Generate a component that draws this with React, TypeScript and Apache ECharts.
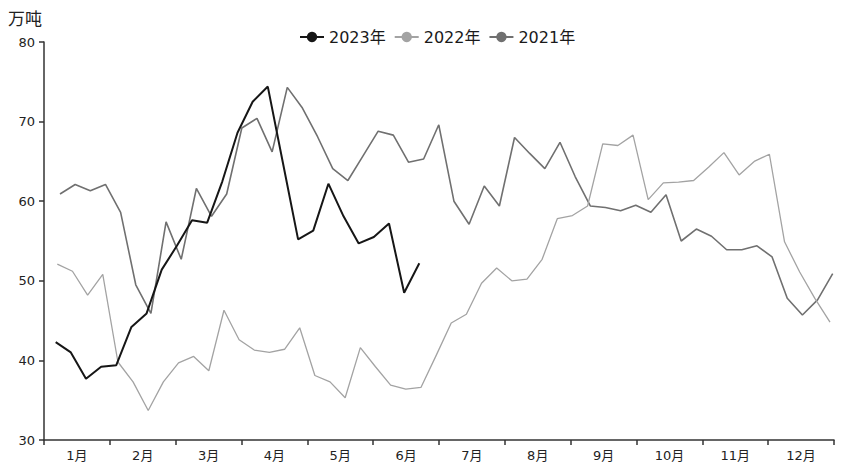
import React, { useEffect, useRef } from "react";
import * as echarts from "echarts";

const months = ["1月", "2月", "3月", "4月", "5月", "6月", "7月", "8月", "9月", "10月", "11月", "12月"];
const yTicks = { min: 30, max: 80, interval: 10 };
const seriesNames = ["2023年", "2022年", "2021年"];
// first weekly observation day-of-year for each year (weekly data)
const firstDay = [5.4, 6.15, 7.4];
const weekStep = 7;

const v2023 = [42.3, 41.0, 37.7, 39.2, 39.4, 44.2, 45.9, 51.4, 54.4, 57.6, 57.3, 62.5, 68.6, 72.5, 74.4, 64.8, 55.2, 56.3, 62.2, 58.1, 54.7, 55.5, 57.2, 48.5, 52.2];
const v2022 = [52.1, 51.2, 48.2, 50.8, 39.8, 37.3, 33.7, 37.3, 39.7, 40.5, 38.7, 46.3, 42.6, 41.3, 41.0, 41.4, 44.1, 38.1, 37.3, 35.3, 41.6, 39.2, 36.9, 36.4, 36.6, 40.6, 44.7, 45.8, 49.7, 51.6, 50.0, 50.2, 52.7, 57.8, 58.2, 59.4, 67.2, 67.0, 68.3, 60.2, 62.3, 62.4, 62.6, 64.3, 66.1, 63.3, 65.0, 65.9, 54.9, 51.1, 47.8, 44.8];
const v2021 = [60.9, 62.1, 61.3, 62.1, 58.6, 49.5, 45.9, 57.4, 52.7, 61.6, 58.1, 60.9, 69.2, 70.4, 66.2, 74.3, 71.7, 68.1, 64.1, 62.6, 65.7, 68.8, 68.3, 64.9, 65.3, 69.6, 60.0, 57.1, 61.9, 59.4, 68.0, 66.0, 64.1, 67.4, 63.1, 59.4, 59.2, 58.8, 59.5, 58.6, 60.8, 55.0, 56.5, 55.6, 53.9, 53.9, 54.4, 53.0, 47.8, 45.7, 47.6, 50.9];

const colors = ["#161616", "#a3a3a3", "#707070"];
const widths = [2, 1.3, 1.6];
const FONT = "'DejaVu Sans', 'Noto Sans CJK SC', sans-serif";

function toPoints(vals: number[], start: number) {
  const daysPerMonth = 365 / 12;
  return vals.map((v, i) => [(start + weekStep * i) / daysPerMonth, v]);
}

export default function App() {
  const ref = useRef<HTMLDivElement>(null);
  useEffect(() => {
    if (!ref.current) return;
    const chart = echarts.init(ref.current, null, { renderer: "svg" });
    const allVals = [v2023, v2022, v2021];
    chart.setOption({
      animation: false,
      backgroundColor: "#fff",
      textStyle: { fontFamily: FONT },
      grid: { left: 44, right: 11, top: 42, bottom: 31, containLabel: false },
      legend: {
        left: 294,
        top: 24,
        itemWidth: 24,
        itemHeight: 13,
        itemGap: 8,
        data: seriesNames,
        textStyle: { fontSize: 16, color: "#1a1a1a", fontFamily: FONT },
      },
      graphic: [
        {
          type: "text",
          left: 8,
          top: 9,
          style: { text: "万吨", fontSize: 17, fill: "#222", fontFamily: "'Noto Sans CJK SC', sans-serif" },
        },
      ],
      xAxis: [
        {
          type: "value",
          min: 0,
          max: 12,
          show: false,
        },
        {
          type: "category",
          data: months,
          boundaryGap: true,
          position: "bottom",
          axisLine: { show: true, lineStyle: { color: "#333", width: 1.5 } },
          axisTick: { show: true, length: 5, lineStyle: { color: "#333", width: 1.5 } },
          axisLabel: { fontSize: 13, color: "#222", margin: 9, fontFamily: FONT, interval: 0 },
          splitLine: { show: false },
        },
      ],
      yAxis: {
        type: "value",
        min: yTicks.min,
        max: yTicks.max,
        interval: yTicks.interval,
        axisLine: { show: true, lineStyle: { color: "#333", width: 1.5 } },
        axisTick: { show: true, length: 5, lineStyle: { color: "#333", width: 1.5 } },
        axisLabel: { fontSize: 13, color: "#222", margin: 9, fontFamily: FONT },
        splitLine: { show: false },
      },
      series: seriesNames.map((name, k) => ({
        name,
        type: "line",
        xAxisIndex: 0,
        data: toPoints(allVals[k], firstDay[k]),
        symbol: "circle",
        symbolSize: 9,
        showSymbol: false,
        z: 10 - k,
        itemStyle: { color: colors[k] },
        lineStyle: { color: colors[k], width: widths[k] },
      })),
    });
    return () => chart.dispose();
  }, []);
  return <div ref={ref} style={{ position: "fixed", left: 0, top: 0, width: 845, height: 471 }} />;
}
